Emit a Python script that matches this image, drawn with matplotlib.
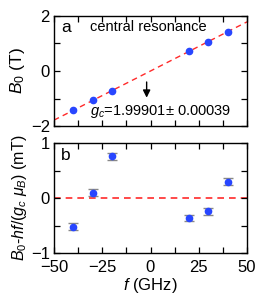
"""
Central resonance: B0 vs f with linear fit, and fit residuals.
Output: out.png (272x297 px)
"""

import numpy as np
import matplotlib
matplotlib.use("Agg")
import matplotlib.pyplot as plt
from matplotlib.ticker import MultipleLocator

plt.rcParams["font.family"] = ["Liberation Sans", "DejaVu Sans"]
plt.rcParams["mathtext.fontset"] = "custom"
plt.rcParams["mathtext.rm"] = "Liberation Sans"
plt.rcParams["mathtext.it"] = "Liberation Sans:italic"
plt.rcParams["font.size"] = 12.5

# ---------------------------------------------------------------------
# Data
# ---------------------------------------------------------------------
freq_ghz = [-40, -30, -20, 20, 30, 40]
b0_tesla = [-1.429, -1.072, -0.715, 0.715, 1.072, 1.429]
resid_mt = [-0.52, 0.10, 0.76, -0.36, -0.24, 0.30]
resid_err = [0.06, 0.06, 0.06, 0.06, 0.06, 0.06]

g_c = 1.99901
H_PLANCK = 6.62607e-34
MU_B = 9.27401e-24

BLUE = "#2846ff"
RED = "#ff2a2a"

# ---------------------------------------------------------------------
# Figure
# ---------------------------------------------------------------------
fig = plt.figure(figsize=(2.72, 2.97), dpi=100)
ax1 = fig.add_axes([54 / 272, 1 - 126 / 297, 193 / 272, 110 / 297])
ax2 = fig.add_axes([54 / 272, 1 - 253 / 297, 193 / 272, 110 / 297])

for ax in (ax1, ax2):
    ax.set_xlim(-50, 50)
    ax.xaxis.set_major_locator(MultipleLocator(25))
    ax.xaxis.set_minor_locator(MultipleLocator(12.5))
    ax.tick_params(which="both", direction="in", top=True, right=True,
                   length=4, width=0.9, labelsize=12)
    ax.tick_params(axis="y", pad=3)
    ax.tick_params(axis="x", pad=5)
    for s in ax.spines.values():
        s.set_linewidth(1.0)

# Panel a
f_line = np.linspace(-50, 50, 50)
b_line = H_PLANCK * f_line * 1e9 / (g_c * MU_B)
ax1.plot(f_line, b_line, ls=(0, (4, 3)), color=RED, lw=1.0, zorder=1)
ax1.plot(freq_ghz, b0_tesla, "o", color=BLUE, ms=4.5, zorder=3)
ax1.set_ylim(-2, 2)
ax1.yaxis.set_major_locator(MultipleLocator(2))
ax1.yaxis.set_minor_locator(MultipleLocator(1))
ax1.set_xticklabels([])
ax1.set_ylabel("$B_{\\mathit{0}}$ (T)", labelpad=3)
ax1.text(-46.5, 1.4, "a", fontsize=12.5)
ax1.text(-1, 1.45, "central resonance", ha="center", fontsize=10.5)
ax1.annotate("", xy=(-2, -0.97), xytext=(-2, -0.4),
             arrowprops=dict(arrowstyle="-|>", color="black", lw=1.0,
                             mutation_scale=11, shrinkA=0, shrinkB=0))
ax1.text(-31.5, -1.6, "$g_c$=1.99901$\\pm$ 0.00039", fontsize=10.5)

# Panel b
ax2.axhline(0, ls=(0, (4, 3)), color=RED, lw=1.2, zorder=1)
ax2.errorbar(freq_ghz, resid_mt, yerr=resid_err, fmt="o", color=BLUE,
             ms=4.5, ecolor="#888888", elinewidth=1.0, capsize=3.5,
             capthick=1.0, zorder=3)
ax2.set_ylim(-1, 1)
ax2.yaxis.set_major_locator(MultipleLocator(1))
ax2.yaxis.set_minor_locator(MultipleLocator(0.5))
ax2.set_ylabel("$B_{\\mathit{0}}$-$hf$/($g_c$ $\\mu_B$) (mT)", labelpad=1,
               fontsize=11.5)
ax2.set_xlabel("$f$ (GHz)", labelpad=1, fontsize=12)
ax2.text(-46.5, 0.7, "b", fontsize=12.5)

fig.savefig("out.png", dpi=100)
